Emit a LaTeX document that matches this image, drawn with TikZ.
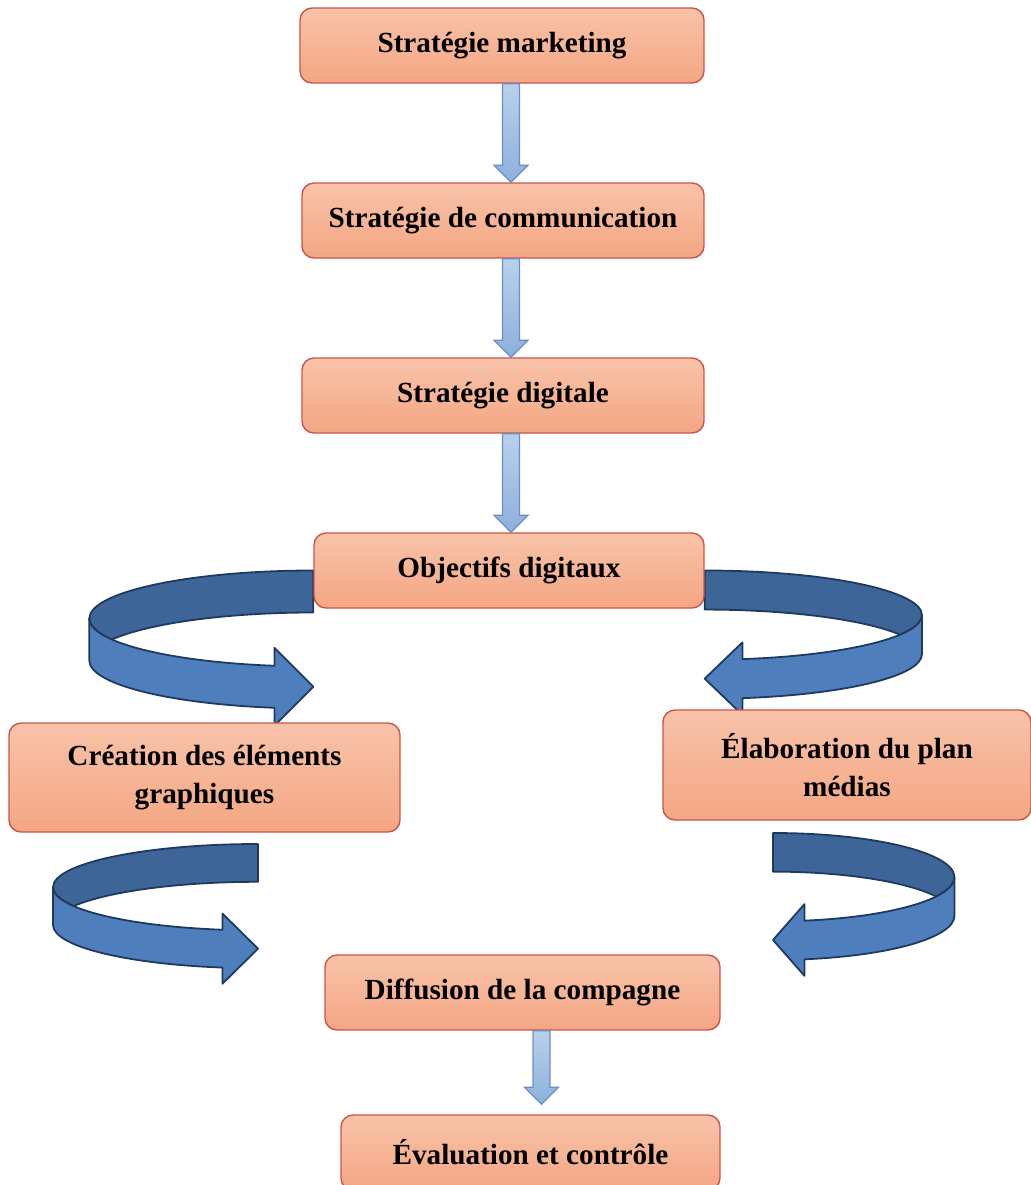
\documentclass[tikz,border=0pt]{standalone}
\usepackage{fontspec}
\setmainfont{Liberation Serif}
\usetikzlibrary{calc,backgrounds}
\definecolor{boxtop}{HTML}{F8C3A9}
\definecolor{boxbot}{HTML}{F4A683}
\definecolor{boxline}{HTML}{C8554D}
\definecolor{arrtop}{HTML}{B9D0EC}
\definecolor{arrbot}{HTML}{8CB0DC}
\definecolor{arrline}{HTML}{6A8FC7}
\definecolor{ribbondark}{HTML}{3E6598}
\definecolor{ribbonlight}{HTML}{4E7FBC}
\definecolor{ribbonline}{HTML}{1E3A5F}
\tikzset{
	stage/.style = {
		shape=rectangle,
		rounded corners=6pt,
		draw=boxline,
		line width=0.7pt,
		align=center,
		top color=boxtop,
		bottom color=boxbot,
		minimum height=37.5pt,
		font=\bfseries\fontsize{14.6}{19}\selectfont
	},
	flow/.style = {
		draw=arrline,
		line width=0.6pt,
		top color=arrtop,
		bottom color=arrbot
	},
	ribbonback/.style = {
		fill=ribbondark,
		draw=ribbonline,
		line width=0.9pt,
		line join=round
	},
	ribbonfront/.style = {
		fill=ribbonlight,
		draw=ribbonline,
		line width=0.9pt,
		line join=round
	}
}
% straight block arrow: column, from, to, gap
\newcommand{\flowarrow}[4]{%
	\draw[flow] let \p1 = (#2.south -| #1), \p2 = (#3.north -| #1) in
		(\x1-4.25pt,\y1) -- (\x1-4.25pt,\y2+#4+8.5pt) -- (\x1-8.5pt,\y2+#4+8.5pt)
		-- (\x1,\y2+#4) -- (\x1+8.5pt,\y2+#4+8.5pt) -- (\x1+4.25pt,\y2+#4+8.5pt)
		-- (\x1+4.25pt,\y1) -- cycle;
}
% curved ribbon arrow, placed by scope options
\newcommand{\ribbonarrow}[1]{%
	\begin{scope}[#1]
		\draw[ribbonback] (0,0) arc[start angle=90, end angle=205.94, x radius=224, y radius=48]
			arc[start angle=154.06, end angle=90, x radius=224, y radius=48] -- cycle;
		\draw[ribbonfront] (-224,-48) -- (-224,-90)
			arc[start angle=180, end angle=260, x radius=224, y radius=48]
			-- ++(0,-18) -- ++(38.9,39) -- ++(-38.9,39) -- ++(0,-18)
			arc[start angle=260, end angle=180, x radius=224, y radius=48] -- cycle;
	\end{scope}}

\begin{document}
\begin{tikzpicture}[x=0.5pt,y=0.5pt]
	\useasboundingbox (0,0) rectangle (1031,-1185);
	\node[stage, minimum width=202pt] (marketing) at (502,-45.5) {Stratégie marketing};
	\node[stage, minimum width=201pt] (communication) at (503,-220.5) {Stratégie de communication};
	\node[stage, minimum width=201pt] (digitale) at (503,-395.5) {Stratégie digitale};
	\node[stage, minimum width=195pt] (objectifs) at (509,-570.5) {Objectifs digitaux};
	\node[stage, minimum width=195.5pt, minimum height=54.5pt] (creation) at (204.5,-777.5)
		{Création des éléments\\graphiques};
	\node[stage, minimum width=184pt, minimum height=55pt] (plan) at (847,-765)
		{Élaboration du plan\\médias};
	\node[stage, minimum width=197.5pt] (diffusion) at (522.5,-992.5) {Diffusion de la compagne};
	\node[stage, minimum width=189.5pt] (evaluation) at (530.5,-1152.5) {Évaluation et contrôle};

	\coordinate (col) at (511,0);
	\coordinate (colb) at (541.5,0);
	\flowarrow{col}{marketing}{communication}{0pt}
	\flowarrow{col}{communication}{digitale}{0pt}
	\flowarrow{col}{digitale}{objectifs}{0pt}
	\flowarrow{colb}{diffusion}{evaluation}{5pt}

	\begin{pgfonlayer}{background}
		\ribbonarrow{shift={(objectifs.west)}}
		\ribbonarrow{shift={(objectifs.east)}, xscale=-0.97, yscale=0.93}
		\ribbonarrow{shift={(258,-844)}, xscale=0.915, yscale=0.9}
		\ribbonarrow{shift={(773,-833)}, xscale=-0.81, yscale=0.92}
	\end{pgfonlayer}
\end{tikzpicture}
\end{document}
